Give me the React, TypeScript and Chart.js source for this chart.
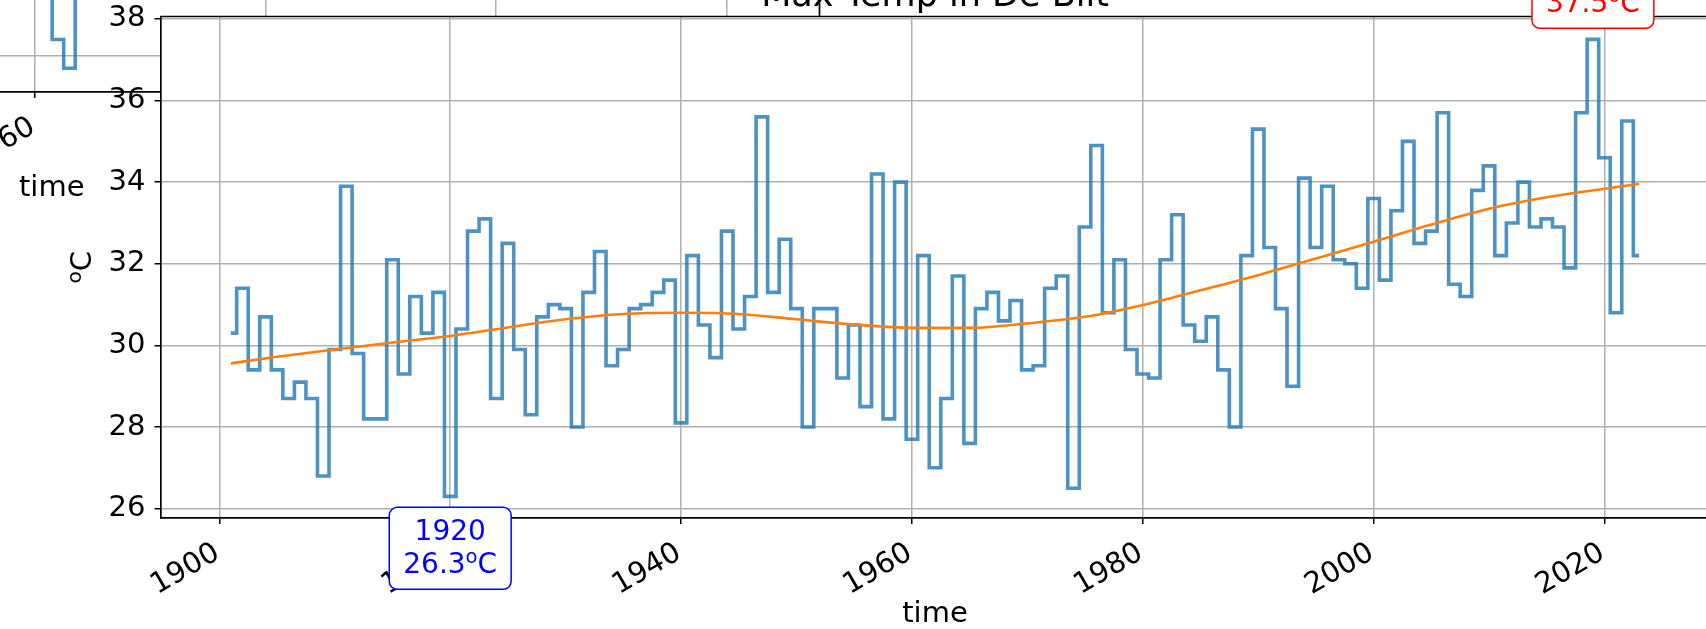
import React, { useEffect, useRef } from "react";
import { Chart, registerables } from "chart.js";

Chart.register(...registerables);

const FONT = "'DejaVu Sans', sans-serif";

// Yearly maximum temperature (°C), De Bilt
const years = [
  1901, 1902, 1903, 1904, 1905, 1906, 1907, 1908, 1909, 1910,
  1911, 1912, 1913, 1914, 1915, 1916, 1917, 1918, 1919, 1920,
  1921, 1922, 1923, 1924, 1925, 1926, 1927, 1928, 1929, 1930,
  1931, 1932, 1933, 1934, 1935, 1936, 1937, 1938, 1939, 1940,
  1941, 1942, 1943, 1944, 1945, 1946, 1947, 1948, 1949, 1950,
  1951, 1952, 1953, 1954, 1955, 1956, 1957, 1958, 1959, 1960,
  1961, 1962, 1963, 1964, 1965, 1966, 1967, 1968, 1969, 1970,
  1971, 1972, 1973, 1974, 1975, 1976, 1977, 1978, 1979, 1980,
  1981, 1982, 1983, 1984, 1985, 1986, 1987, 1988, 1989, 1990,
  1991, 1992, 1993, 1994, 1995, 1996, 1997, 1998, 1999, 2000,
  2001, 2002, 2003, 2004, 2005, 2006, 2007, 2008, 2009, 2010,
  2011, 2012, 2013, 2014, 2015, 2016, 2017, 2018, 2019, 2020,
  2021, 2022, 2023,
];
const maxTemps = [
  30.3, 31.4, 29.4, 30.7, 29.4, 28.7, 29.1, 28.7, 26.8, 29.9,
  33.9, 29.8, 28.2, 28.2, 32.1, 29.3, 31.2, 30.3, 31.3, 26.3,
  30.4, 32.8, 33.1, 28.7, 32.5, 29.9, 28.3, 30.7, 31.0, 30.9,
  28.0, 31.3, 32.3, 29.5, 29.9, 30.9, 31.0, 31.3, 31.6, 28.1,
  32.2, 30.5, 29.7, 32.8, 30.4, 31.2, 35.6, 31.3, 32.6, 30.9,
  28.0, 30.9, 30.9, 29.2, 30.5, 28.5, 34.2, 28.2, 34.0, 27.7,
  32.2, 27.0, 28.7, 31.7, 27.6, 30.9, 31.3, 30.6, 31.1, 29.4,
  29.5, 31.4, 31.7, 26.5, 32.9, 34.9, 30.8, 32.1, 29.9, 29.3,
  29.2, 32.1, 33.2, 30.5, 30.1, 30.7, 29.4, 28.0, 32.2, 35.3,
  32.4, 30.9, 29.0, 34.1, 32.4, 33.9, 32.1, 32.0, 31.4, 33.6,
  31.6, 33.3, 35.0, 32.5, 32.8, 35.7, 31.5, 31.2, 33.8, 34.4,
  32.2, 33.0, 34.0, 32.9, 33.1, 32.9, 31.9, 35.7, 37.5, 34.6,
  30.8, 35.5, 32.2,
];

// Smoothed trend
const trendYears = [
  1901, 1905, 1910, 1915, 1920, 1925, 1930, 1935, 1940, 1945, 1950, 1955, 1960,
  1965, 1970, 1975, 1980, 1985, 1990, 1995, 2000, 2005, 2010, 2015, 2020, 2023,
];
const trendTemps = [
  29.56, 29.72, 29.9, 30.07, 30.23, 30.44, 30.64, 30.77, 30.8, 30.77, 30.64, 30.51, 30.43,
  30.43, 30.54, 30.7, 30.99, 31.35, 31.72, 32.13, 32.54, 32.96, 33.35, 33.63, 33.84, 33.96,
];

// Annotated extremes
const lowYear = 1920;
const lowTemp = 26.3;
const highYear = 2019;
const highTemp = 37.5;

// Fragment of the neighbouring (inset) axes, mostly outside the picture
const insetYears = [1961, 1962, 1963, 1964];
const insetTemps = [38.4, 36.4, 35.7, 38.9];

const TITLE = "Max Temp in De Bilt";
const X_LABEL = "time";
const UNIT_SUP = "o";
const UNIT_BASE = "C";

const TICK_SIZE = 29;
const NOTE_SIZE = 28;
const GRID = {
  color: "#b0b0b0",
  lineWidth: 1.5,
  tickColor: "#000",
  tickLength: 6,
  tickWidth: 1.5,
};
const BORDER = { display: true, color: "#000", width: 1.7 };

function xScale(min: number, max: number) {
  return {
    type: "linear",
    min,
    max,
    afterFit: (s: any) => {
      s.height = 111;
      s.paddingLeft = 0;
      s.paddingRight = 0;
    },
    border: BORDER,
    grid: GRID,
    ticks: {
      stepSize: 20,
      includeBounds: false,
      autoSkip: false,
      minRotation: 30,
      maxRotation: 30,
      padding: 12,
      labelOffset: -2,
      color: "#000",
      font: { family: FONT, size: TICK_SIZE },
      callback: (v: any) => String(v),
    },
    title: {
      display: true,
      text: X_LABEL,
      color: "#000",
      font: { family: FONT, size: TICK_SIZE, lineHeight: 1.0 },
      padding: { top: 0, bottom: 0 },
    },
  };
}

function roundRectPath(ctx: CanvasRenderingContext2D, x: number, y: number, w: number, h: number, r: number) {
  ctx.beginPath();
  ctx.moveTo(x + r, y);
  ctx.lineTo(x + w - r, y);
  ctx.arcTo(x + w, y, x + w, y + r, r);
  ctx.lineTo(x + w, y + h - r);
  ctx.arcTo(x + w, y + h, x + w - r, y + h, r);
  ctx.lineTo(x + r, y + h);
  ctx.arcTo(x, y + h, x, y + h - r, r);
  ctx.lineTo(x, y + r);
  ctx.arcTo(x, y, x + r, y, r);
  ctx.closePath();
}

// text with a superscript part, centred on cx, on the given baseline
function supWidth(ctx: CanvasRenderingContext2D, a: string, sup: string, b: string, size: number) {
  ctx.font = `${size}px ${FONT}`;
  const w1 = ctx.measureText(a).width;
  const w3 = ctx.measureText(b).width;
  ctx.font = `${size * 0.7}px ${FONT}`;
  const w2 = ctx.measureText(sup).width;
  return [w1, w2, w3];
}
function drawSupText(ctx: CanvasRenderingContext2D, cx: number, baseline: number, a: string, sup: string, b: string, size: number) {
  const [w1, w2, w3] = supWidth(ctx, a, sup, b, size);
  let x = cx - (w1 + w2 + w3) / 2;
  ctx.textAlign = "left";
  ctx.textBaseline = "alphabetic";
  ctx.font = `${size}px ${FONT}`;
  ctx.fillText(a, x, baseline);
  x += w1;
  ctx.font = `${size * 0.7}px ${FONT}`;
  ctx.fillText(sup, x, baseline - size * 0.35);
  x += w2;
  ctx.font = `${size}px ${FONT}`;
  ctx.fillText(b, x, baseline);
}

function drawNote(ctx: CanvasRenderingContext2D, cx: number, top: number, year: number, temp: number, color: string) {
  ctx.save();
  ctx.font = `${NOTE_SIZE}px ${FONT}`;
  const w1 = ctx.measureText(String(year)).width;
  const ws = supWidth(ctx, String(temp), UNIT_SUP, UNIT_BASE, NOTE_SIZE);
  const w = Math.max(w1, ws[0] + ws[1] + ws[2]) + 28;
  const h = 82;
  roundRectPath(ctx, cx - w / 2, top, w, h, 8);
  ctx.fillStyle = "#fff";
  ctx.fill();
  ctx.strokeStyle = color;
  ctx.lineWidth = 1.5;
  ctx.stroke();
  ctx.fillStyle = color;
  ctx.font = `${NOTE_SIZE}px ${FONT}`;
  ctx.textAlign = "center";
  ctx.textBaseline = "middle";
  ctx.fillText(String(year), cx, top + 25);
  drawSupText(ctx, cx, top + 57 + NOTE_SIZE * 0.297, String(temp), UNIT_SUP, UNIT_BASE, NOTE_SIZE);
  ctx.restore();
}

const mainDecor = {
  id: "mainDecor",
  beforeDraw(chart: any) {
    const { ctx, chartArea: a } = chart;
    ctx.save();
    ctx.fillStyle = "#fff";
    ctx.fillRect(a.left, a.top, a.right - a.left, a.bottom - a.top);
    ctx.restore();
  },
  afterDraw(chart: any) {
    const { ctx, chartArea: a, scales } = chart;
    ctx.save();
    ctx.strokeStyle = "#000";
    ctx.lineWidth = 1.7;
    ctx.beginPath();
    ctx.moveTo(a.left, a.top);
    ctx.lineTo(a.right, a.top);
    ctx.stroke();
    ctx.fillStyle = "#000";
    ctx.font = `35px ${FONT}`;
    ctx.textAlign = "center";
    ctx.textBaseline = "alphabetic";
    ctx.fillText(TITLE, (a.left + a.right) / 2, a.top - 10.5);

    // y-axis label (rotated, with superscript)
    ctx.translate(91, (a.top + a.bottom) / 2);
    ctx.rotate(-Math.PI / 2);
    ctx.fillStyle = "#000";
    drawSupText(ctx, 0, 0, "", UNIT_SUP, UNIT_BASE, TICK_SIZE);
    ctx.restore();

    const xs = scales.x;
    const ys = scales.y;
    drawNote(ctx, xs.getPixelForValue(lowYear), ys.getPixelForValue(lowTemp) + 11, lowYear, lowTemp, "#0000ff");
    drawNote(ctx, xs.getPixelForValue(highYear), ys.getPixelForValue(highTemp) - 11 - 82, highYear, highTemp, "#ff0000");
  },
};

const insetDecor = {
  id: "insetDecor",
  afterDraw(chart: any) {
    const { ctx, chartArea: a } = chart;
    ctx.save();
    ctx.strokeStyle = "#000";
    ctx.lineWidth = 1.7;
    ctx.beginPath();
    ctx.moveTo(a.right, a.top);
    ctx.lineTo(a.right, a.bottom);
    ctx.stroke();
    ctx.restore();
  },
};

const STEP_STYLE = {
  borderColor: "rgba(31,119,180,0.8)",
  borderWidth: 3.6,
  pointRadius: 0,
  stepped: "middle",
  fill: false,
};

export default function App() {
  const mainRef = useRef<HTMLCanvasElement>(null);
  const insetRef = useRef<HTMLCanvasElement>(null);

  useEffect(() => {
    const inset = new Chart(insetRef.current as HTMLCanvasElement, {
      type: "line",
      data: {
        datasets: [
          {
            ...STEP_STYLE,
            data: insetYears.map((x, i) => ({ x, y: insetTemps[i] })),
          } as any,
        ],
      },
      options: {
        responsive: false,
        devicePixelRatio: 1,
        animation: false,
        layout: { padding: { left: 0, right: 3.5, top: 0, bottom: 0 } },
        plugins: { legend: { display: false }, tooltip: { enabled: false } },
        scales: {
          x: xScale(1894.9, 2028.03) as any,
          y: {
            type: "linear",
            min: 35.12,
            max: 42.24,
            afterFit: (s: any) => {
              s.width = 0;
              s.paddingTop = 0;
              s.paddingBottom = 0;
            },
            border: { display: false },
            grid: GRID,
            ticks: { display: false, stepSize: 2, includeBounds: false },
          } as any,
        },
      },
      plugins: [insetDecor],
    });

    const main = new Chart(mainRef.current as HTMLCanvasElement, {
      type: "line",
      data: {
        datasets: [
          {
            ...STEP_STYLE,
            order: 2,
            data: years.map((x, i) => ({ x, y: maxTemps[i] })),
          } as any,
          {
            order: 1,
            borderColor: "#ff7f0e",
            borderWidth: 2.6,
            pointRadius: 0,
            cubicInterpolationMode: "monotone",
            fill: false,
            data: trendYears.map((x, i) => ({ x, y: trendTemps[i] })),
          } as any,
        ],
      },
      options: {
        responsive: false,
        devicePixelRatio: 1,
        animation: false,
        layout: { padding: { left: 0, right: 0.5, top: 16.5, bottom: 0 } },
        plugins: { legend: { display: false }, tooltip: { enabled: false } },
        scales: {
          x: xScale(1894.9, 2029.1) as any,
          y: {
            type: "linear",
            min: 25.77,
            max: 38.06,
            afterFit: (s: any) => {
              s.width = 160.5;
              s.paddingTop = 0;
              s.paddingBottom = 0;
            },
            border: BORDER,
            grid: GRID,
            ticks: {
              stepSize: 2,
              includeBounds: false,
              padding: 9,
              color: "#000",
              font: { family: FONT, size: TICK_SIZE },
              callback: (v: any) => String(v),
            },
          } as any,
        },
      },
      plugins: [mainDecor],
    });

    return () => {
      main.destroy();
      inset.destroy();
    };
  }, []);

  return (
    <div
      style={{
        position: "absolute",
        left: 0,
        top: 0,
        width: 1706,
        height: 629,
        overflow: "hidden",
        background: "#fff",
      }}
    >
      <canvas
        ref={insetRef}
        width={1539}
        height={403}
        style={{ position: "absolute", left: -716, top: -200, display: "block" }}
      />
      <canvas
        ref={mainRef}
        width={1710}
        height={629}
        style={{ position: "absolute", left: 0, top: 0, display: "block" }}
      />
    </div>
  );
}
